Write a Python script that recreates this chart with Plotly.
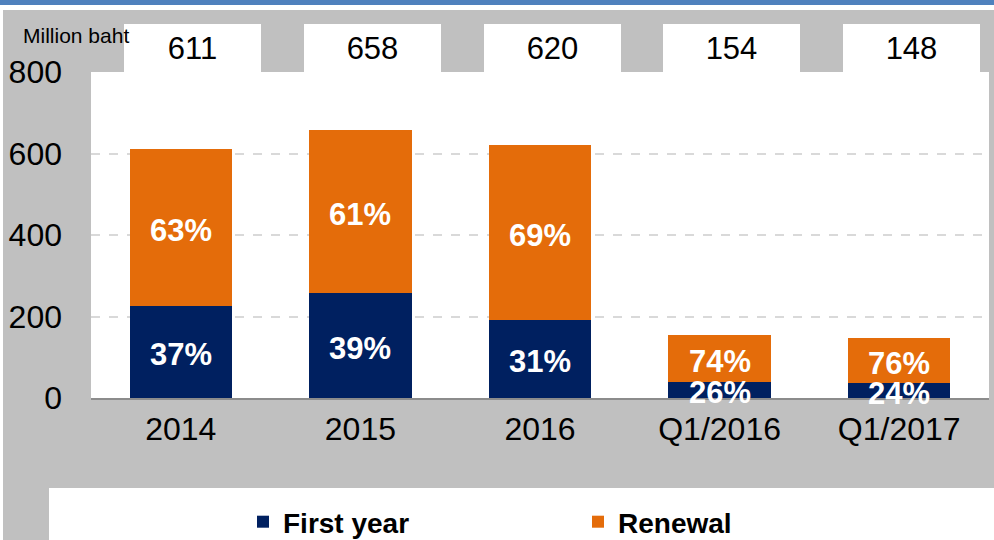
import plotly.graph_objects as go

categories = ["2014", "2015", "2016", "Q1/2016", "Q1/2017"]
first_year = [226, 257, 192, 40, 36]
renewal = [385, 401, 428, 114, 112]
totals = [611, 658, 620, 154, 148]
first_pct = ["37%", "39%", "31%", "26%", "24%"]
renewal_pct = ["63%", "61%", "69%", "74%", "76%"]
y_ticks = [0, 200, 400, 600, 800]

NAVY = "#002060"
ORANGE = "#E46C0A"
GRAY = "#C0C0C0"
FONT = "Liberation Sans, Arial, sans-serif"

W, H = 994, 540
L, R, T, B = 91, 5, 72, 142
PW, PH = W - L - R, H - T - B


def px(x):
    return (x - L) / PW


def py(y):
    return (H - B - y) / PH


fig = go.Figure()
fig.add_trace(go.Bar(x=categories, y=first_year, name="First year",
                     marker=dict(color=NAVY, line=dict(width=0)), width=0.57))
fig.add_trace(go.Bar(x=categories, y=renewal, name="Renewal",
                     marker=dict(color=ORANGE, line=dict(width=0)), width=0.57))

annotations = []
for i, (f, r, fp, rp, t) in enumerate(zip(first_year, renewal, first_pct, renewal_pct, totals)):
    annotations.append(dict(x=i, y=f / 2, text=fp, showarrow=False, yshift=-3,
                            font=dict(family=FONT, size=31, color="white", weight="bold")))
    annotations.append(dict(x=i, y=f + r / 2, text=rp, showarrow=False, yshift=-3,
                            font=dict(family=FONT, size=31, color="white", weight="bold")))
    annotations.append(dict(x=i, y=1, yref="paper", yanchor="bottom", text=str(t),
                            showarrow=False, xshift=12, width=137, height=48,
                            bgcolor="white", borderpad=0, borderwidth=0,
                            font=dict(family=FONT, size=31, color="black")))
annotations.append(dict(x=px(21), y=py(35), xref="paper", yref="paper", xanchor="left",
                        yanchor="middle", text="Million baht", showarrow=False,
                        font=dict(family=FONT, size=21, color="black")))

shapes = [
    dict(type="rect", xref="paper", yref="paper", x0=px(0), x1=px(W), y0=py(0), y1=py(5),
         fillcolor="#4F81BD", line=dict(width=0), layer="below"),
    dict(type="rect", xref="paper", yref="paper", x0=px(0), x1=px(W), y0=py(5), y1=py(10),
         fillcolor="white", line=dict(width=0), layer="below"),
    dict(type="rect", xref="paper", yref="paper", x0=px(0), x1=px(3), y0=py(5), y1=py(H),
         fillcolor="white", line=dict(width=0), layer="below"),
    dict(type="rect", xref="paper", yref="paper", x0=px(49), x1=px(W), y0=py(488), y1=py(H),
         fillcolor="white", line=dict(width=0), layer="below"),
]

fig.update_layout(
    width=W, height=H,
    margin=dict(l=L, r=R, t=T, b=B, pad=0, autoexpand=False),
    barmode="stack",
    paper_bgcolor=GRAY,
    plot_bgcolor="white",
    font=dict(family=FONT, color="black"),
    showlegend=True,
    legend=dict(orientation="h", x=px(243), y=py(522), xanchor="left", yanchor="middle",
                bgcolor="rgba(0,0,0,0)", entrywidth=290, entrywidthmode="pixels",
                font=dict(family=FONT, size=28, color="black", weight="bold"),
                traceorder="normal"),
    annotations=annotations,
    shapes=shapes,
)
fig.update_xaxes(type="category", range=[-0.5, len(categories) - 0.5], showgrid=False,
                 showline=True, linecolor="#8C8C8C", linewidth=2, ticks="",
                 tickfont=dict(family=FONT, size=32, color="black"), ticklabelstandoff=2)
fig.update_yaxes(range=[0, 800], tickvals=y_ticks, showgrid=True, gridcolor="#D9D9D9",
                 griddash="dash", gridwidth=2, zeroline=False, showline=False, ticks="",
                 tickfont=dict(family=FONT, size=32, color="black"), ticklabelstandoff=28)

fig.write_html("out.html", post_script="document.body.style.margin='0';",
               config={"displayModeBar": False})
